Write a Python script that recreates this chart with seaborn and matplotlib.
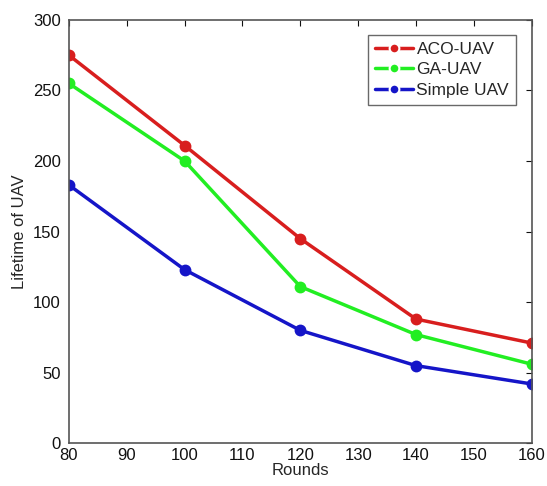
import matplotlib
matplotlib.use("Agg")
import matplotlib.pyplot as plt
import seaborn as sns
import pandas as pd

rounds = [80, 100, 120, 140, 160]
aco_uav = [275, 211, 145, 88, 71]
ga_uav = [255, 200, 111, 77, 56]
simple_uav = [183, 123, 80, 55, 42]
series_names = ["ACO-UAV", "GA-UAV", "Simple UAV"]
colors = ["#d81e1e", "#22ee22", "#1515c8"]
x_ticks = [80, 90, 100, 110, 120, 130, 140, 150, 160]
y_ticks = [0, 50, 100, 150, 200, 250, 300]

df = pd.DataFrame({
    "Rounds": rounds * 3,
    "Lifetime": aco_uav + ga_uav + simple_uav,
    "Series": [series_names[0]] * 5 + [series_names[1]] * 5 + [series_names[2]] * 5,
})

sns.set_style("white")
plt.rcParams["font.family"] = ["Liberation Sans", "DejaVu Sans"]

fig = plt.figure(figsize=(5.47, 4.86), dpi=100)
ax = fig.add_axes([0.126, 0.088, 0.846, 0.871])
sns.lineplot(data=df, x="Rounds", y="Lifetime", hue="Series",
             palette=dict(zip(series_names, colors)), marker="o",
             markersize=7, linewidth=2.5, markeredgewidth=1.5, ax=ax)
for ln, c in zip(ax.lines, colors):
    ln.set_markeredgecolor(c)

ax.set_xlim(80, 160)
ax.set_ylim(0, 300)
ax.set_xticks(x_ticks)
ax.set_yticks(y_ticks)
ax.tick_params(direction="in", length=4, labelsize=12, colors="#111111", width=0.8)
ax.tick_params(axis="y", pad=6)
ax.tick_params(top=True, right=True, labeltop=False, labelright=False)
for s in ax.spines.values():
    s.set_color("#555555")
    s.set_linewidth(1.2)
    s.set_visible(True)
ax.set_xlabel("Rounds", fontsize=12, labelpad=0)
ax.set_ylabel("Lifetime of UAV", fontsize=12, labelpad=4)

leg = ax.legend(loc="upper right", fontsize=12.5, frameon=True, fancybox=False,
                edgecolor="#444444", handlelength=2.2, handletextpad=0.2,
                borderpad=0.4, labelspacing=0.3, bbox_to_anchor=(0.985, 0.985))
leg.get_frame().set_linewidth(1.0)

fig.savefig("out.png", dpi=100)
